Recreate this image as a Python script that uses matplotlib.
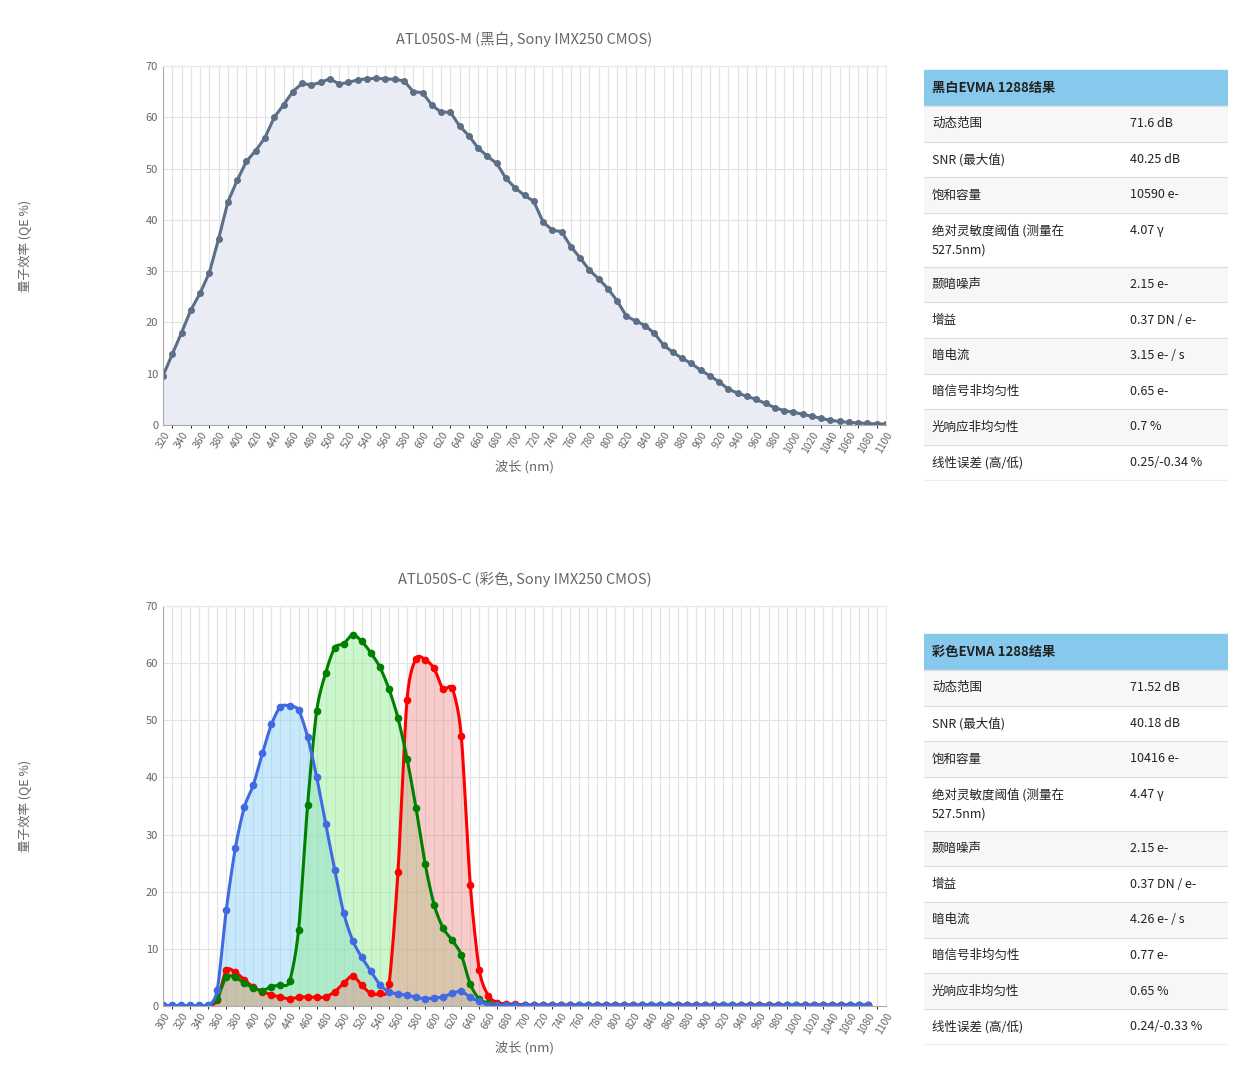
import matplotlib.pyplot as plt
import numpy as np

plt.rcParams['font.family'] = ['Noto Sans CJK SC', 'DejaVu Sans']

# ======= 数据 ==========
wl_mono = list(range(320, 1101, 10))
qe_mono = [9.6, 13.8, 18, 22.4, 25.7, 29.7, 36.3, 43.5, 47.7, 51.4, 53.5, 56, 60, 62.4, 65,
           66.6, 66.3, 66.8, 67.5, 66.5, 66.8, 67.3, 67.5, 67.6, 67.5, 67.4, 67.1, 65, 64.8,
           62.4, 61, 61, 58.3, 56.4, 54, 52.4, 51, 48.1, 46.2, 44.8, 43.6, 39.6, 38, 37.7,
           34.8, 32.6, 30.2, 28.5, 26.6, 24.2, 21.2, 20.3, 19.4, 17.9, 15.6, 14.2, 13, 12,
           10.7, 9.6, 8.4, 7, 6.2, 5.6, 5, 4.2, 3.4, 2.8, 2.5, 2.1, 1.7, 1.3, 0.9, 0.7, 0.5,
           0.4, 0.3, 0.2, 0.2]

wl_color = list(range(300, 1081, 10))
tail = 79 - 38
qe_red = [0, 0, 0, 0, 0, 0, 1.0, 6.3, 5.9, 4.6, 3.3, 2.5, 2.0, 1.5, 1.3, 1.5, 1.6, 1.5, 1.6,
          2.5, 4.0, 5.3, 3.6, 2.2, 2.2, 3.8, 23.5, 53.6, 60.8, 60.6, 59.1, 55.4, 55.6, 47.3,
          21.2, 6.3, 1.8, 0.6] + [0.4, 0.3] + [0.2] * (tail - 2)
qe_green = [0, 0, 0, 0, 0, 0, 1.3, 5.1, 5.0, 4.0, 3.2, 2.7, 3.4, 3.7, 4.3, 13.3, 35.2, 51.6,
            58.3, 62.7, 63.4, 65.0, 63.8, 61.8, 59.3, 55.5, 50.4, 43.3, 34.6, 24.9, 17.7,
            13.6, 11.5, 9.0, 3.8, 1.2, 0.5, 0.2] + [0.1] * tail
qe_blue = [0.1, 0.1, 0.1, 0.1, 0.1, 0.1, 2.8, 16.8, 27.6, 34.8, 38.7, 44.2, 49.3, 52.4, 52.5,
           51.8, 47.1, 40.1, 31.9, 23.8, 16.2, 11.4, 8.5, 6.1, 3.7, 2.5, 2.1, 1.9, 1.5, 1.3,
           1.4, 1.6, 2.2, 2.6, 1.5, 0.8, 0.2, 0.1] + [0.1] * tail

labels_mono = ["动态范围", "SNR (最大值)", "饱和容量", "绝对灵敏度阈值 (测量在\n527.5nm)", "颞暗噪声",
               "增益", "暗电流", "暗信号非均匀性", "光响应非均匀性", "线性误差 (高/低)"]
values_mono = ["71.6 dB", "40.25 dB", "10590 e-", "4.07 γ", "2.15 e-", "0.37 DN / e-",
               "3.15 e- / s", "0.65 e-", "0.7 %", "0.25/-0.34 %"]
values_color = ["71.52 dB", "40.18 dB", "10416 e-", "4.47 γ", "2.15 e-", "0.37 DN / e-",
                "4.26 e- / s", "0.77 e-", "0.65 %", "0.24/-0.33 %"]

W, H = 1242, 1080
fig = plt.figure(figsize=(W / 100, H / 100), dpi=100)


def smooth(x, y, n=8):
    # Catmull-Rom 曲线 (仅用于画线)
    x = np.asarray(x, float); y = np.asarray(y, float)
    px = np.concatenate([[x[0]], x, [x[-1]]]); py = np.concatenate([[y[0]], y, [y[-1]]])
    xs, ys = [], []
    t = np.linspace(0, 1, n, endpoint=False)
    for i in range(1, len(px) - 2):
        for p, out in ((px, xs), (py, ys)):
            p0, p1, p2, p3 = p[i - 1], p[i], p[i + 1], p[i + 2]
            m1 = (p2 - p0) / 2 * 0.8; m2 = (p3 - p1) / 2 * 0.8
            h00 = 2*t**3 - 3*t**2 + 1; h10 = t**3 - 2*t**2 + t
            h01 = -2*t**3 + 3*t**2; h11 = t**3 - t**2
            out.extend(h00*p1 + h10*m1 + h01*p2 + h11*m2)
    xs.append(x[-1]); ys.append(y[-1])
    return np.array(xs), np.maximum(np.array(ys), 0)


def style_ax(ax, xmin, title):
    ax.set_xlim(xmin, 1100)
    ax.set_ylim(0, 70)
    ax.set_xticks(range(xmin, 1101, 20))
    ax.set_xticks(range(xmin, 1101, 10), minor=True)
    ax.set_yticks(range(0, 71, 10))
    ax.tick_params(axis='x', labelrotation=60, labelsize=7.5, colors='#666666', length=0)
    ax.tick_params(axis='y', labelsize=8, colors='#666666', length=0)
    for lab in ax.get_xticklabels():
        lab.set_ha('right'); lab.set_rotation_mode('anchor')
    ax.grid(True, which='both', color='#e2e2e2', linewidth=0.8)
    ax.set_axisbelow(True)
    for s in ['top', 'right']:
        ax.spines[s].set_color('#e8e8e8')
    for s in ['left', 'bottom']:
        ax.spines[s].set_color('#aaaaaa')
    ax.set_title(title, fontsize=10.5, color='#666666', pad=16)
    ax.set_xlabel("波长 (nm)", fontsize=9.5, color='#666666')


# 黑白
ax1 = fig.add_axes([163 / W, 1 - 425 / H, 723 / W, 359 / H])
ax1.fill_between(wl_mono, qe_mono, color='#e9ecf4')
ax1.plot(wl_mono, qe_mono, color='#5c6f86', linewidth=2.2, marker='o', markersize=4)
style_ax(ax1, 320, "ATL050S-M (黑白, Sony IMX250 CMOS)")
fig.text(25 / W, 1 - 246 / H, "量子效率 (QE %)", rotation=90, ha='center', va='center',
         fontsize=9, color='#666666')

# 彩色
ax2 = fig.add_axes([163 / W, 1 - 1006 / H, 723 / W, 400 / H])
for y, line_c, fill_c in [(qe_blue, '#4169e1', (0.53, 0.81, 0.98, 0.45)),
                          (qe_green, '#008000', (0.56, 0.93, 0.56, 0.45)),
                          (qe_red, '#ff0000', (0.94, 0.5, 0.5, 0.4))]:
    sx, sy = smooth(wl_color, y)
    ax2.fill_between(sx, sy, color=fill_c, linewidth=0)
for y, line_c in [(qe_red, '#ff0000'), (qe_green, '#008000'), (qe_blue, '#4169e1')]:
    sx, sy = smooth(wl_color, y)
    ax2.plot(sx, sy, color=line_c, linewidth=2.2)
    ax2.plot(wl_color, y, 'o', color=line_c, markersize=4.5)
style_ax(ax2, 300, "ATL050S-C (彩色, Sony IMX250 CMOS)")
fig.text(25 / W, 1 - 806 / H, "量子效率 (QE %)", rotation=90, ha='center', va='center',
         fontsize=9, color='#666666')


def draw_table(top, header, labels, values):
    x0, x1 = 924, 1228
    tab = fig.add_axes([x0 / W, 0, (x1 - x0) / W, 1])
    tab.set_xlim(x0, x1); tab.set_ylim(H, 0); tab.axis('off')
    tab.add_patch(plt.Rectangle((x0, top), x1 - x0, 35, color='#87c9ec'))
    tab.text(x0 + 8, top + 17.5, header, va='center', fontsize=9.5, fontweight='bold', color='#222222')
    y = top + 36
    for i, (lab, val) in enumerate(zip(labels, values)):
        h = 54 if '\n' in lab else 35.6
        if i % 2 == 0:
            tab.add_patch(plt.Rectangle((x0, y), x1 - x0, h, color='#f7f7f7'))
        tab.plot([x0, x1], [y, y], color='#dddddd', linewidth=0.8)
        tab.text(x0 + 8, y + h / 2, lab, va='center', fontsize=9, color='#222222', linespacing=1.6)
        tab.text(1130, y + (18 if '\n' in lab else h / 2), val, va='center', fontsize=9, color='#222222')
        y += h
    tab.plot([x0, x1], [y, y], color='#eeeeee', linewidth=0.8)


draw_table(70, "黑白EVMA 1288结果", labels_mono, values_mono)
draw_table(634, "彩色EVMA 1288结果", labels_mono, values_color)

fig.savefig("out.png", dpi=100)
plt.close(fig)
